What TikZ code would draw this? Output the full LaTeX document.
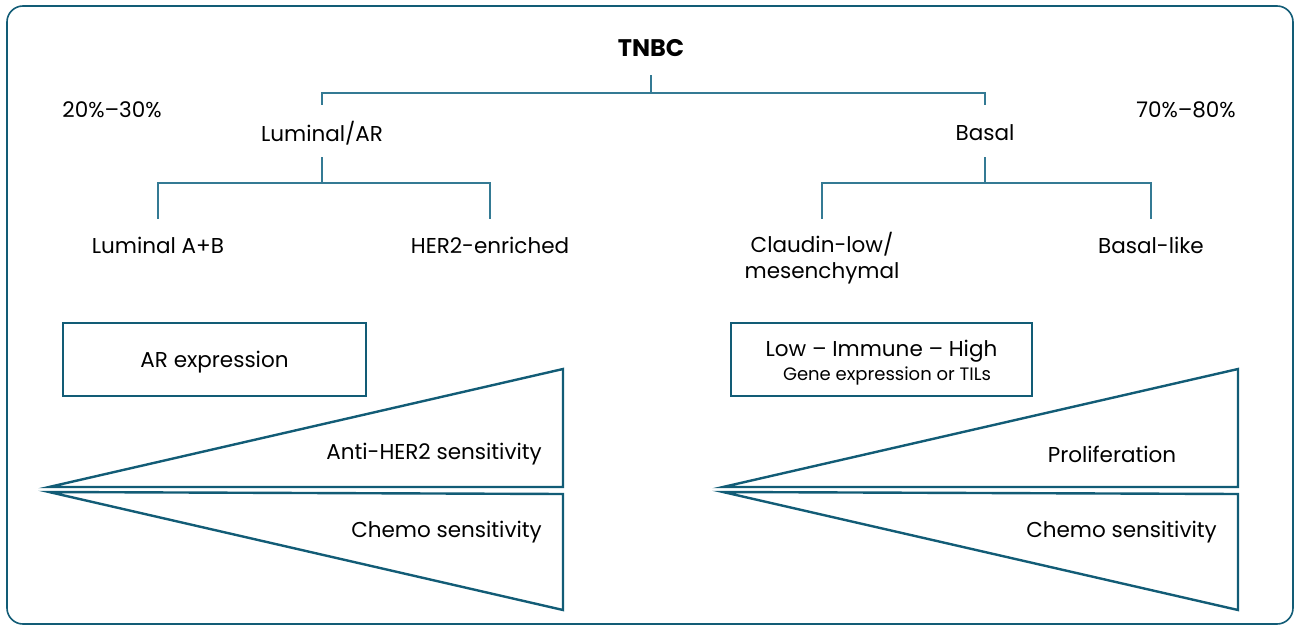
\documentclass[tikz,border=0pt]{standalone}
\usepackage{fontspec}
\setmainfont{Poppins}
\definecolor{treec}{RGB}{52,122,148}
\definecolor{tric}{RGB}{18,92,118}
\begin{document}
\begin{tikzpicture}[x=1pt,y=-1pt,
  lbl/.style={font=\fontsize{21.5}{26}\selectfont, inner sep=0pt},
  tree/.style={draw=treec, line width=1.6pt},
  tri/.style={draw=tric, line width=2.4pt, line join=miter},
  boxs/.style={draw=tric, line width=1.4pt}]
\useasboundingbox (0,0) rectangle (1295,626);
\draw[draw=tric, line width=1.6pt, rounded corners=16pt] (7,6) rectangle (1293,624);
% tree
\node[lbl, font=\fontsize{24}{28}\selectfont\bfseries] (tnbc) at (651,48) {TNBC};
\node[lbl] (lum) at (322,133) {Luminal/AR};
\node[lbl] (bas) at (985,133) {Basal};
\node[lbl] (p1) at (112,110) {20\%–30\%};
\node[lbl] (p2) at (1186,110) {70\%–80\%};
\node[lbl] (la) at (158,245) {Luminal A+B};
\node[lbl] (her) at (490,245) {HER2-enriched};
\node[lbl, align=center, font=\fontsize{21.5}{26}\selectfont] (cl) at (822,258.5) {Claudin-low/\\mesenchymal};
\node[lbl] (bl) at (1151,245) {Basal-like};
\coordinate (t0) at (651,75);
\draw[tree] (t0) -- (651,93) -| (322,105);
\draw[tree] (651,93) -| (985,105);
\draw[tree] (322,157) -- (322,183) -| (158,219);
\draw[tree] (322,183) -| (490,219);
\draw[tree] (985,157) -- (985,183) -| (822,219);
\draw[tree] (985,183) -| (1151,219);
% boxes
\node[boxs, minimum width=303pt, minimum height=73pt] (arbox) at (214.5,359.5) {};
\node[lbl] (art) at (214.5,362) {AR expression};
\node[boxs, minimum width=301pt, minimum height=73pt] (imbox) at (881.5,359.5) {};
\node[lbl] (im1) at (881.5,351) {Low – Immune – High};
\node[lbl, font=\fontsize{18}{22}\selectfont] (im2) at (887,376) {Gene expression or TILs};
% triangles left
\draw[tri] (49,487) -- (563,369) -- (563,487) -- cycle;
\draw[tri] (49,492) -- (563,494) -- (563,610) -- cycle;
\node[lbl, anchor=east] (ah) at (542,454) {Anti-HER2 sensitivity};
\node[lbl, anchor=east] (cs1) at (542,532) {Chemo sensitivity};
% triangles right
\draw[tri] (723,487) -- (1238,369) -- (1238,487) -- cycle;
\draw[tri] (723,492) -- (1238,494) -- (1238,610) -- cycle;
\node[lbl] (pr) at (1112,454) {Proliferation};
\node[lbl, anchor=east] (cs2) at (1217,532) {Chemo sensitivity};
\end{tikzpicture}
\end{document}
